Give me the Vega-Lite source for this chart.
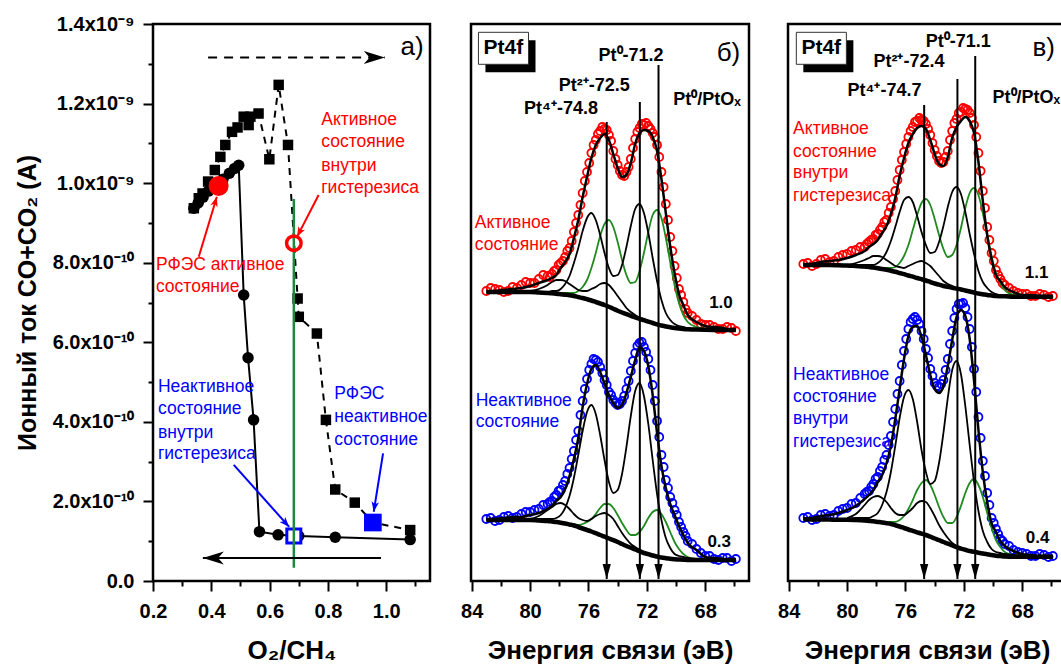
{
"$schema":"https://vega.github.io/schema/vega-lite/v6.json",
"background":"white",
"padding":{"left":13,"top":12,"right":0,"bottom":0},
"config":{"font":"Liberation Sans","view":{"stroke":"black","strokeWidth":2.5},
"axis":{"grid":false,"labelFlush":false,"labelOverlap":false,"labelFont":"Liberation Sans","titleFont":"Liberation Sans","labelFontWeight":"bold","titleFontWeight":"bold","labelFontSize":20,"titleFontSize":26,"labelColor":"black","titleColor":"black","tickColor":"black","tickWidth":2}},
"datasets":{
"pa":[
{"ser":"sq","x":0.340,"y":9.37e-10},{"ser":"sq","x":0.357,"y":9.62e-10},{"ser":"sq","x":0.370,"y":9.74e-10},{"ser":"sq","x":0.389,"y":1.004e-9},{"ser":"sq","x":0.412,"y":1.033e-9},{"ser":"sq","x":0.431,"y":1.066e-9},{"ser":"sq","x":0.448,"y":1.096e-9},{"ser":"sq","x":0.471,"y":1.129e-9},{"ser":"sq","x":0.490,"y":1.14e-9},{"ser":"sq","x":0.511,"y":1.167e-9},{"ser":"sq","x":0.528,"y":1.146e-9},{"ser":"sq","x":0.534,"y":1.167e-9},{"ser":"sq","x":0.562,"y":1.175e-9},{"ser":"sq","x":0.599,"y":1.06e-9},{"ser":"sq","x":0.631,"y":1.247e-9},{"ser":"sq","x":0.663,"y":1.096e-9},{"ser":"sq","x":0.696,"y":7.1e-10},{"ser":"sq","x":0.700,"y":6.64e-10},{"ser":"sq","x":0.762,"y":6.22e-10},{"ser":"sq","x":0.793,"y":4.05e-10},{"ser":"sq","x":0.825,"y":2.3e-10},{"ser":"sq","x":0.892,"y":1.97e-10},{"ser":"sq","x":0.954,"y":1.47e-10},{"ser":"sq","x":1.082,"y":1.28e-10},
{"ser":"ci","x":0.340,"y":9.37e-10},{"ser":"ci","x":0.355,"y":9.5e-10},{"ser":"ci","x":0.372,"y":9.65e-10},{"ser":"ci","x":0.390,"y":9.8e-10},{"ser":"ci","x":0.410,"y":9.95e-10},{"ser":"ci","x":0.440,"y":1.01e-9},{"ser":"ci","x":0.462,"y":1.025e-9},{"ser":"ci","x":0.480,"y":1.037e-9},{"ser":"ci","x":0.494,"y":1.045e-9},{"ser":"ci","x":0.511,"y":7.19e-10},{"ser":"ci","x":0.526,"y":5.61e-10},{"ser":"ci","x":0.545,"y":4.05e-10},{"ser":"ci","x":0.565,"y":1.24e-10},{"ser":"ci","x":0.629,"y":1.16e-10},{"ser":"ci","x":0.700,"y":1.13e-10},{"ser":"ci","x":0.825,"y":1.1e-10},{"ser":"ci","x":1.082,"y":1.04e-10}],
"pm":[{"m":"rf","x":0.425,"y":9.93e-10},{"m":"rh","x":0.683,"y":8.49e-10},{"m":"bf","x":0.954,"y":1.47e-10},{"m":"bh","x":0.683,"y":1.13e-10}],
"pg":[{"x":0.683,"y":3.3e-11,"y2":9.6e-10}],
"par":[
{"id":"top","k":"k","x":0.389,"y":1.316e-9,"x2":0.995,"y2":1.316e-9},
{"id":"bot","k":"k","x":0.982,"y":5.8e-11,"x2":0.371,"y2":5.8e-11},
{"id":"r1","k":"a","x":0.357,"y":8.15e-10,"x2":0.419,"y2":9.66e-10},
{"id":"r2","k":"a","x":0.768,"y":9.7e-10,"x2":0.694,"y2":8.65e-10},
{"id":"b1","k":"n","x":0.477,"y":2.92e-10,"x2":0.667,"y2":1.36e-10},
{"id":"b2","k":"n","x":0.989,"y":3.21e-10,"x2":0.957,"y2":1.74e-10}],
"at":[
{"ty":"L","k":"k","t":"а)","x":1.128,"y":1.342e-9},
{"ty":"S","k":"a","t":"Активное","x":0.777,"y":1.159e-9},
{"ty":"S","k":"a","t":"состояние","x":0.777,"y":1.103e-9},
{"ty":"S","k":"a","t":"внутри","x":0.777,"y":1.044e-9},
{"ty":"S","k":"a","t":"гистерезиса","x":0.777,"y":9.88e-10},
{"ty":"S","k":"a","t":"РФЭС активное","x":0.21,"y":7.94e-10},
{"ty":"S","k":"a","t":"состояние","x":0.21,"y":7.38e-10},
{"ty":"S","k":"n","t":"Неактивное","x":0.217,"y":4.88e-10},
{"ty":"S","k":"n","t":"состояние","x":0.217,"y":4.32e-10},
{"ty":"S","k":"n","t":"внутри","x":0.217,"y":3.73e-10},
{"ty":"S","k":"n","t":"гистерезиса","x":0.217,"y":3.18e-10},
{"ty":"S","k":"n","t":"РФЭС","x":0.822,"y":4.7e-10},
{"ty":"S","k":"n","t":"неактивное","x":0.822,"y":4.11e-10},
{"ty":"S","k":"n","t":"состояние","x":0.822,"y":3.54e-10}],
"xl":[{"p":"b","E":74.75,"I":459},{"p":"b","E":72.48,"I":479},{"p":"b","E":71.2,"I":516},{"p":"c","E":74.72,"I":476},{"p":"c","E":72.44,"I":502},{"p":"c","E":71.22,"I":525}],
"xb":[{"p":"b","r":"sh","E":83.06,"E2":79.63,"I":540.7,"I2":508.7},{"p":"b","r":"bx","E":83.54,"E2":80.11,"I":548.7,"I2":516.7},{"p":"c","r":"sh","E":83.0,"E2":79.57,"I":540.7,"I2":508.7},{"p":"c","r":"bx","E":83.48,"E2":80.05,"I":548.7,"I2":516.7}],
"xt":[
{"p":"b","ty":"L","k":"k","t":"б)","E":65.6,"I":528},
{"p":"b","ty":"P","k":"k","t":"Pt⁰-71.2","E":73.08,"I":525},
{"p":"b","ty":"P","k":"k","t":"Pt²⁺-72.5","E":75.6,"I":495},
{"p":"b","ty":"P","k":"k","t":"Pt⁴⁺-74.8","E":77.88,"I":472},
{"p":"b","ty":"P","k":"k","t":"Pt⁰/PtOₓ","E":67.88,"I":481},
{"p":"b","ty":"N","k":"k","t":"1.0","E":66.92,"I":278},
{"p":"b","ty":"N","k":"k","t":"0.3","E":67.04,"I":39},
{"p":"b","ty":"S","k":"a","t":"Активное","E":83.79,"I":358},
{"p":"b","ty":"S","k":"a","t":"состояние","E":83.79,"I":336},
{"p":"b","ty":"S","k":"n","t":"Неактивное","E":83.73,"I":180},
{"p":"b","ty":"S","k":"n","t":"состояние","E":83.73,"I":159},
{"p":"b","ty":"B","k":"k","t":"Pt4f","E":81.83,"I":532.7},
{"p":"c","ty":"L","k":"k","t":"в)","E":65.76,"I":533},
{"p":"c","ty":"P","k":"k","t":"Pt⁰-71.1","E":72.39,"I":539},
{"p":"c","ty":"P","k":"k","t":"Pt²⁺-72.4","E":75.76,"I":519},
{"p":"c","ty":"P","k":"k","t":"Pt⁴⁺-74.7","E":77.44,"I":490},
{"p":"c","ty":"P","k":"k","t":"Pt⁰/PtOₓ","E":67.72,"I":483},
{"p":"c","ty":"N","k":"k","t":"1.1","E":67.02,"I":308},
{"p":"c","ty":"N","k":"k","t":"0.4","E":66.95,"I":43},
{"p":"c","ty":"S","k":"a","t":"Активное","E":83.7,"I":452},
{"p":"c","ty":"S","k":"a","t":"состояние","E":83.7,"I":429},
{"p":"c","ty":"S","k":"a","t":"внутри","E":83.7,"I":408},
{"p":"c","ty":"S","k":"a","t":"гистерезиса","E":83.7,"I":385},
{"p":"c","ty":"S","k":"n","t":"Неактивное","E":83.7,"I":206},
{"p":"c","ty":"S","k":"n","t":"состояние","E":83.7,"I":184},
{"p":"c","ty":"S","k":"n","t":"внутри","E":83.7,"I":162},
{"p":"c","ty":"S","k":"n","t":"гистерезиса","E":83.7,"I":139},
{"p":"c","ty":"B","k":"k","t":"Pt4f","E":81.77,"I":532.7}],
"xo":[
{"p":"b","s":"a","E":82.7,"o":293},{"p":"b","s":"a","E":82.1,"o":291},{"p":"b","s":"a","E":81.5,"o":290},{"p":"b","s":"a","E":80.9,"o":293},{"p":"b","s":"a","E":80.3,"o":299},{"p":"b","s":"a","E":79.7,"o":298},{"p":"b","s":"a","E":79.1,"o":306},{"p":"b","s":"a","E":78.65,"o":304},{"p":"b","s":"a","E":78.35,"o":310},{"p":"b","s":"a","E":78.05,"o":316},{"p":"b","s":"a","E":77.75,"o":320},{"p":"b","s":"a","E":77.45,"o":330},{"p":"b","s":"a","E":77.15,"o":340},{"p":"b","s":"a","E":76.85,"o":358},{"p":"b","s":"a","E":76.55,"o":376},{"p":"b","s":"a","E":76.25,"o":400},{"p":"b","s":"a","E":75.95,"o":418},{"p":"b","s":"a","E":75.65,"o":436},{"p":"b","s":"a","E":75.35,"o":447},{"p":"b","s":"a","E":75.05,"o":454},{"p":"b","s":"a","E":74.75,"o":451},{"p":"b","s":"a","E":74.45,"o":440},{"p":"b","s":"a","E":74.15,"o":422},{"p":"b","s":"a","E":73.85,"o":410},{"p":"b","s":"a","E":73.55,"o":405},{"p":"b","s":"a","E":73.25,"o":414},{"p":"b","s":"a","E":72.95,"o":433},{"p":"b","s":"a","E":72.65,"o":449},{"p":"b","s":"a","E":72.35,"o":457},{"p":"b","s":"a","E":72.05,"o":458},{"p":"b","s":"a","E":71.75,"o":452},{"p":"b","s":"a","E":71.45,"o":444},{"p":"b","s":"a","E":71.15,"o":424},{"p":"b","s":"a","E":70.85,"o":394},{"p":"b","s":"a","E":70.55,"o":361},{"p":"b","s":"a","E":70.25,"o":330},{"p":"b","s":"a","E":69.95,"o":303},{"p":"b","s":"a","E":69.65,"o":286},{"p":"b","s":"a","E":69.35,"o":272},{"p":"b","s":"a","E":68.9,"o":265},{"p":"b","s":"a","E":68.3,"o":257},{"p":"b","s":"a","E":67.7,"o":256},{"p":"b","s":"a","E":67.1,"o":252},{"p":"b","s":"a","E":66.5,"o":254},
{"p":"b","s":"n","E":82.7,"o":63},{"p":"b","s":"n","E":82.1,"o":61},{"p":"b","s":"n","E":81.5,"o":65},{"p":"b","s":"n","E":80.9,"o":64},{"p":"b","s":"n","E":80.3,"o":69},{"p":"b","s":"n","E":79.7,"o":71},{"p":"b","s":"n","E":79.1,"o":76},{"p":"b","s":"n","E":78.65,"o":79},{"p":"b","s":"n","E":78.35,"o":84},{"p":"b","s":"n","E":78.05,"o":90},{"p":"b","s":"n","E":77.75,"o":96},{"p":"b","s":"n","E":77.45,"o":107},{"p":"b","s":"n","E":77.15,"o":122},{"p":"b","s":"n","E":76.85,"o":141},{"p":"b","s":"n","E":76.55,"o":166},{"p":"b","s":"n","E":76.25,"o":192},{"p":"b","s":"n","E":75.95,"o":211},{"p":"b","s":"n","E":75.65,"o":222},{"p":"b","s":"n","E":75.35,"o":219},{"p":"b","s":"n","E":75.05,"o":208},{"p":"b","s":"n","E":74.75,"o":196},{"p":"b","s":"n","E":74.45,"o":186},{"p":"b","s":"n","E":74.15,"o":178},{"p":"b","s":"n","E":73.85,"o":177},{"p":"b","s":"n","E":73.55,"o":185},{"p":"b","s":"n","E":73.25,"o":200},{"p":"b","s":"n","E":72.95,"o":220},{"p":"b","s":"n","E":72.65,"o":235},{"p":"b","s":"n","E":72.35,"o":239},{"p":"b","s":"n","E":72.05,"o":229},{"p":"b","s":"n","E":71.75,"o":211},{"p":"b","s":"n","E":71.45,"o":180},{"p":"b","s":"n","E":71.15,"o":144},{"p":"b","s":"n","E":70.85,"o":114},{"p":"b","s":"n","E":70.55,"o":93},{"p":"b","s":"n","E":70.25,"o":78},{"p":"b","s":"n","E":69.95,"o":66},{"p":"b","s":"n","E":69.65,"o":54},{"p":"b","s":"n","E":69.35,"o":45},{"p":"b","s":"n","E":68.9,"o":37},{"p":"b","s":"n","E":68.3,"o":28},{"p":"b","s":"n","E":67.7,"o":25},{"p":"b","s":"n","E":67.1,"o":21},{"p":"b","s":"n","E":66.5,"o":23},
{"p":"c","s":"a","E":82.7,"o":318},{"p":"c","s":"a","E":82.1,"o":317},{"p":"c","s":"a","E":81.5,"o":322},{"p":"c","s":"a","E":80.9,"o":320},{"p":"c","s":"a","E":80.3,"o":326},{"p":"c","s":"a","E":79.7,"o":330},{"p":"c","s":"a","E":79.1,"o":334},{"p":"c","s":"a","E":78.65,"o":337},{"p":"c","s":"a","E":78.35,"o":341},{"p":"c","s":"a","E":78.05,"o":346},{"p":"c","s":"a","E":77.75,"o":351},{"p":"c","s":"a","E":77.45,"o":359},{"p":"c","s":"a","E":77.15,"o":368},{"p":"c","s":"a","E":76.85,"o":382},{"p":"c","s":"a","E":76.55,"o":401},{"p":"c","s":"a","E":76.25,"o":421},{"p":"c","s":"a","E":75.95,"o":437},{"p":"c","s":"a","E":75.65,"o":450},{"p":"c","s":"a","E":75.35,"o":459},{"p":"c","s":"a","E":75.05,"o":463},{"p":"c","s":"a","E":74.75,"o":460},{"p":"c","s":"a","E":74.45,"o":452},{"p":"c","s":"a","E":74.15,"o":438},{"p":"c","s":"a","E":73.85,"o":425},{"p":"c","s":"a","E":73.55,"o":418},{"p":"c","s":"a","E":73.25,"o":424},{"p":"c","s":"a","E":72.95,"o":441},{"p":"c","s":"a","E":72.65,"o":458},{"p":"c","s":"a","E":72.35,"o":468},{"p":"c","s":"a","E":72.05,"o":473},{"p":"c","s":"a","E":71.75,"o":471},{"p":"c","s":"a","E":71.45,"o":463},{"p":"c","s":"a","E":71.15,"o":444},{"p":"c","s":"a","E":70.85,"o":410},{"p":"c","s":"a","E":70.55,"o":373},{"p":"c","s":"a","E":70.25,"o":341},{"p":"c","s":"a","E":69.95,"o":320},{"p":"c","s":"a","E":69.65,"o":306},{"p":"c","s":"a","E":69.35,"o":298},{"p":"c","s":"a","E":68.9,"o":293},{"p":"c","s":"a","E":68.3,"o":288},{"p":"c","s":"a","E":67.7,"o":287},{"p":"c","s":"a","E":67.1,"o":285},{"p":"c","s":"a","E":66.5,"o":286},
{"p":"c","s":"n","E":82.7,"o":64},{"p":"c","s":"n","E":82.1,"o":62},{"p":"c","s":"n","E":81.5,"o":67},{"p":"c","s":"n","E":80.9,"o":66},{"p":"c","s":"n","E":80.3,"o":72},{"p":"c","s":"n","E":79.7,"o":77},{"p":"c","s":"n","E":79.1,"o":83},{"p":"c","s":"n","E":78.65,"o":89},{"p":"c","s":"n","E":78.35,"o":94},{"p":"c","s":"n","E":78.05,"o":102},{"p":"c","s":"n","E":77.75,"o":110},{"p":"c","s":"n","E":77.45,"o":121},{"p":"c","s":"n","E":77.15,"o":136},{"p":"c","s":"n","E":76.85,"o":159},{"p":"c","s":"n","E":76.55,"o":187},{"p":"c","s":"n","E":76.25,"o":216},{"p":"c","s":"n","E":75.95,"o":242},{"p":"c","s":"n","E":75.65,"o":259},{"p":"c","s":"n","E":75.35,"o":264},{"p":"c","s":"n","E":75.05,"o":257},{"p":"c","s":"n","E":74.75,"o":242},{"p":"c","s":"n","E":74.45,"o":223},{"p":"c","s":"n","E":74.15,"o":205},{"p":"c","s":"n","E":73.85,"o":195},{"p":"c","s":"n","E":73.55,"o":197},{"p":"c","s":"n","E":73.25,"o":211},{"p":"c","s":"n","E":72.95,"o":237},{"p":"c","s":"n","E":72.65,"o":263},{"p":"c","s":"n","E":72.35,"o":277},{"p":"c","s":"n","E":72.05,"o":278},{"p":"c","s":"n","E":71.75,"o":264},{"p":"c","s":"n","E":71.45,"o":234},{"p":"c","s":"n","E":71.15,"o":189},{"p":"c","s":"n","E":70.85,"o":143},{"p":"c","s":"n","E":70.55,"o":105},{"p":"c","s":"n","E":70.25,"o":76},{"p":"c","s":"n","E":69.95,"o":58},{"p":"c","s":"n","E":69.65,"o":47},{"p":"c","s":"n","E":69.35,"o":40},{"p":"c","s":"n","E":68.9,"o":35},{"p":"c","s":"n","E":68.3,"o":29},{"p":"c","s":"n","E":67.7,"o":27},{"p":"c","s":"n","E":67.1,"o":25},{"p":"c","s":"n","E":66.5,"o":26}],
"xps":[
{"p":"b","s":"a","E":83.0,"o":290,"f":289,"bg":289},
{"p":"b","s":"a","E":82.4,"o":292,"f":290,"bg":289},
{"p":"b","s":"a","E":81.8,"o":289,"f":291,"bg":289},
{"p":"b","s":"a","E":81.2,"o":294,"f":292,"bg":289},
{"p":"b","s":"a","E":80.6,"o":296,"f":293,"bg":289},
{"p":"b","s":"a","E":80.0,"o":298,"f":295,"bg":289,"k2":289,"g":289,"k4":290},
{"p":"b","s":"a","E":79.4,"o":302,"f":298,"bg":288.5,"k2":289,"g":289,"k4":292},
{"p":"b","s":"a","E":78.8,"o":305,"f":301,"bg":288,"k2":289,"g":289,"k4":296},
{"p":"b","s":"a","E":78.5,"o":307,"f":303,"bg":287.7,"k2":290,"g":289,"k4":299},
{"p":"b","s":"a","E":78.2,"o":311,"f":306,"bg":287.3,"k2":290,"g":288,"k4":301},
{"p":"b","s":"a","E":77.9,"o":318,"f":313,"bg":286.8,"k2":292,"g":288,"k4":301},
{"p":"b","s":"a","E":77.6,"o":324,"f":319,"bg":286.3,"k2":297,"g":288,"k4":300},
{"p":"b","s":"a","E":77.3,"o":333,"f":327,"bg":285.8,"k2":305,"g":288,"k4":297},
{"p":"b","s":"a","E":77.0,"o":349,"f":343,"bg":285,"k2":318,"g":288,"k4":294},
{"p":"b","s":"a","E":76.7,"o":366,"f":361,"bg":284,"k2":333,"g":290,"k4":291},
{"p":"b","s":"a","E":76.4,"o":388,"f":384,"bg":283,"k2":350,"g":294,"k4":290},
{"p":"b","s":"a","E":76.1,"o":409,"f":404,"bg":281.8,"k2":363,"g":301,"k4":290},
{"p":"b","s":"a","E":75.8,"o":428,"f":423,"bg":280.5,"k2":368,"g":313,"k4":292},
{"p":"b","s":"a","E":75.5,"o":441,"f":436,"bg":279,"k2":361,"g":328,"k4":294},
{"p":"b","s":"a","E":75.2,"o":450,"f":443,"bg":277.5,"k2":346,"g":345,"k4":297},
{"p":"b","s":"a","E":74.9,"o":452,"f":447,"bg":276,"k2":328,"g":357,"k4":298},
{"p":"b","s":"a","E":74.6,"o":446,"f":441,"bg":274.3,"k2":313,"g":361,"k4":296},
{"p":"b","s":"a","E":74.3,"o":430,"f":427,"bg":272.3,"k2":305,"g":354,"k4":291},
{"p":"b","s":"a","E":74.0,"o":416,"f":413,"bg":270.3,"k2":306,"g":339,"k4":285},
{"p":"b","s":"a","E":73.7,"o":406,"f":404,"bg":268.5,"k2":316,"g":321,"k4":279},
{"p":"b","s":"a","E":73.4,"o":409,"f":406,"bg":266.8,"k2":334,"g":306,"k4":273},
{"p":"b","s":"a","E":73.1,"o":422,"f":418,"bg":265.2,"k2":355,"g":298,"k4":269},
{"p":"b","s":"a","E":72.8,"o":442,"f":437,"bg":263.7,"k2":372,"g":299,"k4":266},
{"p":"b","s":"a","E":72.5,"o":453,"f":448,"bg":262.2,"k2":377,"g":310,"k4":263},
{"p":"b","s":"a","E":72.2,"o":456,"f":451,"bg":260.8,"k2":368,"g":328,"k4":261},
{"p":"b","s":"a","E":71.9,"o":455,"f":450,"bg":259.3,"k2":348,"g":349,"k4":260},
{"p":"b","s":"a","E":71.6,"o":448,"f":444,"bg":258,"k2":323,"g":366,"k4":258},
{"p":"b","s":"a","E":71.3,"o":436,"f":430,"bg":256.6,"k2":300,"g":371,"k4":257},
{"p":"b","s":"a","E":71.0,"o":409,"f":402,"bg":255.5,"k2":281,"g":363,"k4":256},
{"p":"b","s":"a","E":70.7,"o":377,"f":368,"bg":254.5,"k2":268,"g":343,"k4":255},
{"p":"b","s":"a","E":70.4,"o":344,"f":335,"bg":253.7,"k2":261,"g":319,"k4":254},
{"p":"b","s":"a","E":70.1,"o":315,"f":308,"bg":253,"k2":257,"g":296,"k4":253},
{"p":"b","s":"a","E":69.8,"o":292,"f":287,"bg":252.5,"k2":255,"g":278,"k4":253},
{"p":"b","s":"a","E":69.5,"o":279,"f":276,"bg":252.1,"k2":254,"g":266,"k4":252},
{"p":"b","s":"a","E":69.2,"o":268,"f":266,"bg":251.8,"k2":253,"g":259,"k4":252},
{"p":"b","s":"a","E":68.6,"o":261,"f":259,"bg":251.4,"k2":252,"g":254,"k4":251},
{"p":"b","s":"a","E":68.0,"o":256,"f":255,"bg":251.2,"k2":252,"g":252,"k4":251},
{"p":"b","s":"a","E":67.4,"o":254,"f":254,"bg":251.1},
{"p":"b","s":"a","E":66.8,"o":252,"f":253,"bg":251},
{"p":"b","s":"a","E":66.2,"o":253,"f":251,"bg":251},
{"p":"b","s":"a","E":65.9,"o":250,"f":251,"bg":251},
{"p":"b","s":"n","E":83.0,"o":62,"f":61,"bg":61},
{"p":"b","s":"n","E":82.4,"o":60,"f":62,"bg":61},
{"p":"b","s":"n","E":81.8,"o":64,"f":63,"bg":61},
{"p":"b","s":"n","E":81.2,"o":63,"f":64,"bg":61},
{"p":"b","s":"n","E":80.6,"o":67,"f":64,"bg":61},
{"p":"b","s":"n","E":80.0,"o":69,"f":66,"bg":61,"k2":62,"g":61,"k4":62},
{"p":"b","s":"n","E":79.4,"o":72,"f":68,"bg":60.5,"k2":62,"g":61,"k4":65},
{"p":"b","s":"n","E":78.8,"o":77,"f":72,"bg":60,"k2":62,"g":60,"k4":71},
{"p":"b","s":"n","E":78.5,"o":80,"f":75,"bg":59.5,"k2":62,"g":60,"k4":74},
{"p":"b","s":"n","E":78.2,"o":86,"f":80,"bg":59,"k2":63,"g":59,"k4":77},
{"p":"b","s":"n","E":77.9,"o":91,"f":84,"bg":58.3,"k2":66,"g":59,"k4":78},
{"p":"b","s":"n","E":77.6,"o":100,"f":92,"bg":57.5,"k2":73,"g":58,"k4":76},
{"p":"b","s":"n","E":77.3,"o":113,"f":105,"bg":56.5,"k2":85,"g":57,"k4":72},
{"p":"b","s":"n","E":77.0,"o":130,"f":122,"bg":55.5,"k2":103,"g":57,"k4":67},
{"p":"b","s":"n","E":76.7,"o":150,"f":143,"bg":54,"k2":126,"g":56,"k4":63},
{"p":"b","s":"n","E":76.4,"o":180,"f":174,"bg":52.5,"k2":150,"g":57,"k4":61},
{"p":"b","s":"n","E":76.1,"o":202,"f":197,"bg":51,"k2":169,"g":59,"k4":60},
{"p":"b","s":"n","E":75.8,"o":217,"f":212,"bg":49.5,"k2":176,"g":62,"k4":62},
{"p":"b","s":"n","E":75.5,"o":221,"f":216,"bg":47.8,"k2":167,"g":67,"k4":65},
{"p":"b","s":"n","E":75.2,"o":214,"f":209,"bg":46,"k2":146,"g":73,"k4":67},
{"p":"b","s":"n","E":74.9,"o":201,"f":197,"bg":44.3,"k2":121,"g":77,"k4":68},
{"p":"b","s":"n","E":74.6,"o":189,"f":186,"bg":42.5,"k2":99,"g":77,"k4":66},
{"p":"b","s":"n","E":74.3,"o":181,"f":178,"bg":40.8,"k2":88,"g":73,"k4":62},
{"p":"b","s":"n","E":74.0,"o":176,"f":173,"bg":39,"k2":91,"g":66,"k4":55},
{"p":"b","s":"n","E":73.7,"o":180,"f":176,"bg":37,"k2":107,"g":58,"k4":48},
{"p":"b","s":"n","E":73.4,"o":192,"f":188,"bg":35,"k2":134,"g":51,"k4":42},
{"p":"b","s":"n","E":73.1,"o":210,"f":204,"bg":33.3,"k2":165,"g":46,"k4":37},
{"p":"b","s":"n","E":72.8,"o":228,"f":221,"bg":31.5,"k2":190,"g":46,"k4":34},
{"p":"b","s":"n","E":72.5,"o":238,"f":234,"bg":29.8,"k2":198,"g":49,"k4":31},
{"p":"b","s":"n","E":72.2,"o":234,"f":230,"bg":28,"k2":185,"g":55,"k4":29},
{"p":"b","s":"n","E":71.9,"o":222,"f":215,"bg":26.8,"k2":157,"g":63,"k4":27},
{"p":"b","s":"n","E":71.6,"o":196,"f":186,"bg":25.5,"k2":121,"g":69,"k4":26},
{"p":"b","s":"n","E":71.3,"o":160,"f":148,"bg":24.5,"k2":87,"g":71,"k4":25},
{"p":"b","s":"n","E":71.0,"o":126,"f":115,"bg":23.5,"k2":61,"g":67,"k4":24},
{"p":"b","s":"n","E":70.7,"o":101,"f":93,"bg":22.8,"k2":43,"g":59,"k4":23},
{"p":"b","s":"n","E":70.4,"o":84,"f":77,"bg":22.2,"k2":33,"g":49,"k4":22},
{"p":"b","s":"n","E":70.1,"o":71,"f":66,"bg":21.8,"k2":27,"g":39,"k4":22},
{"p":"b","s":"n","E":69.8,"o":59,"f":55,"bg":21.5,"k2":25,"g":32,"k4":22},
{"p":"b","s":"n","E":69.5,"o":49,"f":46,"bg":21.2,"k2":24,"g":27,"k4":21},
{"p":"b","s":"n","E":69.2,"o":40,"f":38,"bg":21,"k2":23,"g":24,"k4":21},
{"p":"b","s":"n","E":68.6,"o":32,"f":31,"bg":21,"k2":22,"g":22,"k4":21},
{"p":"b","s":"n","E":68.0,"o":25,"f":24,"bg":21,"k2":22,"g":21,"k4":21},
{"p":"b","s":"n","E":67.4,"o":22,"f":23,"bg":21},
{"p":"b","s":"n","E":66.8,"o":23,"f":22,"bg":21},
{"p":"b","s":"n","E":66.2,"o":20,"f":21,"bg":21},
{"p":"b","s":"n","E":65.9,"o":22,"f":21,"bg":21},
{"p":"c","s":"a","E":83.0,"o":317,"f":316,"bg":316},
{"p":"c","s":"a","E":82.4,"o":315,"f":317,"bg":316},
{"p":"c","s":"a","E":81.8,"o":321,"f":319,"bg":316},
{"p":"c","s":"a","E":81.2,"o":319,"f":320,"bg":316},
{"p":"c","s":"a","E":80.6,"o":324,"f":321,"bg":315.8},
{"p":"c","s":"a","E":80.0,"o":327,"f":323,"bg":315.5,"k2":316,"g":316,"k4":316},
{"p":"c","s":"a","E":79.4,"o":331,"f":326,"bg":315,"k2":316,"g":316,"k4":318},
{"p":"c","s":"a","E":78.8,"o":334,"f":330,"bg":314.5,"k2":316,"g":315,"k4":321},
{"p":"c","s":"a","E":78.5,"o":339,"f":334,"bg":314,"k2":316,"g":315,"k4":323},
{"p":"c","s":"a","E":78.2,"o":342,"f":337,"bg":313.5,"k2":316,"g":314,"k4":325},
{"p":"c","s":"a","E":77.9,"o":347,"f":341,"bg":312.8,"k2":318,"g":314,"k4":325},
{"p":"c","s":"a","E":77.6,"o":354,"f":348,"bg":312,"k2":322,"g":313,"k4":324},
{"p":"c","s":"a","E":77.3,"o":361,"f":355,"bg":311.2,"k2":329,"g":313,"k4":321},
{"p":"c","s":"a","E":77.0,"o":374,"f":367,"bg":310.3,"k2":340,"g":313,"k4":318},
{"p":"c","s":"a","E":76.7,"o":390,"f":383,"bg":309.2,"k2":354,"g":314,"k4":315},
{"p":"c","s":"a","E":76.4,"o":411,"f":405,"bg":308,"k2":369,"g":318,"k4":314},
{"p":"c","s":"a","E":76.1,"o":429,"f":423,"bg":306.8,"k2":381,"g":325,"k4":313},
{"p":"c","s":"a","E":75.8,"o":444,"f":438,"bg":305.5,"k2":384,"g":336,"k4":315},
{"p":"c","s":"a","E":75.5,"o":454,"f":447,"bg":304.3,"k2":379,"g":351,"k4":317},
{"p":"c","s":"a","E":75.2,"o":460,"f":453,"bg":303,"k2":365,"g":366,"k4":319},
{"p":"c","s":"a","E":74.9,"o":461,"f":455,"bg":301.8,"k2":349,"g":378,"k4":320},
{"p":"c","s":"a","E":74.6,"o":457,"f":452,"bg":300.5,"k2":336,"g":382,"k4":318},
{"p":"c","s":"a","E":74.3,"o":446,"f":441,"bg":299,"k2":328,"g":376,"k4":315},
{"p":"c","s":"a","E":74.0,"o":431,"f":427,"bg":297.5,"k2":329,"g":362,"k4":310},
{"p":"c","s":"a","E":73.7,"o":420,"f":417,"bg":296.3,"k2":339,"g":346,"k4":305},
{"p":"c","s":"a","E":73.4,"o":419,"f":415,"bg":295,"k2":355,"g":332,"k4":300},
{"p":"c","s":"a","E":73.1,"o":430,"f":424,"bg":294.2,"k2":374,"g":324,"k4":297},
{"p":"c","s":"a","E":72.8,"o":450,"f":443,"bg":293.3,"k2":389,"g":326,"k4":295},
{"p":"c","s":"a","E":72.5,"o":462,"f":454,"bg":292.4,"k2":394,"g":336,"k4":293},
{"p":"c","s":"a","E":72.2,"o":469,"f":460,"bg":291.5,"k2":387,"g":353,"k4":292},
{"p":"c","s":"a","E":71.9,"o":472,"f":464,"bg":290.5,"k2":369,"g":373,"k4":291},
{"p":"c","s":"a","E":71.6,"o":468,"f":460,"bg":289.5,"k2":347,"g":388,"k4":290},
{"p":"c","s":"a","E":71.3,"o":456,"f":448,"bg":288.5,"k2":327,"g":393,"k4":289},
{"p":"c","s":"a","E":71.0,"o":428,"f":419,"bg":287.5,"k2":310,"g":386,"k4":288},
{"p":"c","s":"a","E":70.7,"o":390,"f":380,"bg":286.8,"k2":299,"g":368,"k4":287},
{"p":"c","s":"a","E":70.4,"o":354,"f":346,"bg":286,"k2":293,"g":346,"k4":286},
{"p":"c","s":"a","E":70.1,"o":328,"f":322,"bg":285.5,"k2":289,"g":325,"k4":286},
{"p":"c","s":"a","E":69.8,"o":311,"f":306,"bg":285,"k2":287,"g":308,"k4":285},
{"p":"c","s":"a","E":69.5,"o":302,"f":300,"bg":284.8,"k2":286,"g":298,"k4":285},
{"p":"c","s":"a","E":69.2,"o":296,"f":294,"bg":284.7,"k2":286,"g":291,"k4":285},
{"p":"c","s":"a","E":68.6,"o":290,"f":289,"bg":284.3,"k2":285,"g":286,"k4":284},
{"p":"c","s":"a","E":68.0,"o":287,"f":286,"bg":284.3,"k2":285,"g":285,"k4":284},
{"p":"c","s":"a","E":67.4,"o":285,"f":286,"bg":284.3},
{"p":"c","s":"a","E":66.8,"o":287,"f":285,"bg":284.3},
{"p":"c","s":"a","E":66.2,"o":284,"f":285,"bg":284.3},
{"p":"c","s":"a","E":65.9,"o":285,"f":284,"bg":284.3},
{"p":"c","s":"n","E":83.0,"o":63,"f":62,"bg":61.7},
{"p":"c","s":"n","E":82.4,"o":61,"f":63,"bg":61.6},
{"p":"c","s":"n","E":81.8,"o":66,"f":65,"bg":61.5},
{"p":"c","s":"n","E":81.2,"o":65,"f":66,"bg":61.4},
{"p":"c","s":"n","E":80.6,"o":70,"f":68,"bg":61.3},
{"p":"c","s":"n","E":80.0,"o":73,"f":71,"bg":61.3,"k2":62,"g":62,"k4":63},
{"p":"c","s":"n","E":79.4,"o":78,"f":75,"bg":61,"k2":63,"g":61,"k4":67},
{"p":"c","s":"n","E":78.8,"o":87,"f":82,"bg":60.5,"k2":63,"g":61,"k4":76},
{"p":"c","s":"n","E":78.5,"o":90,"f":86,"bg":60.1,"k2":63,"g":61,"k4":81},
{"p":"c","s":"n","E":78.2,"o":97,"f":91,"bg":59.7,"k2":65,"g":60,"k4":84},
{"p":"c","s":"n","E":77.9,"o":104,"f":99,"bg":59.1,"k2":68,"g":60,"k4":85},
{"p":"c","s":"n","E":77.6,"o":114,"f":106,"bg":58.5,"k2":76,"g":59,"k4":83},
{"p":"c","s":"n","E":77.3,"o":126,"f":118,"bg":57.8,"k2":89,"g":59,"k4":79},
{"p":"c","s":"n","E":77.0,"o":145,"f":135,"bg":57,"k2":109,"g":59,"k4":73},
{"p":"c","s":"n","E":76.7,"o":172,"f":162,"bg":55.8,"k2":135,"g":59,"k4":68},
{"p":"c","s":"n","E":76.4,"o":200,"f":192,"bg":54.5,"k2":163,"g":61,"k4":66},
{"p":"c","s":"n","E":76.1,"o":230,"f":222,"bg":53,"k2":184,"g":65,"k4":66},
{"p":"c","s":"n","E":75.8,"o":252,"f":245,"bg":51.5,"k2":191,"g":72,"k4":69},
{"p":"c","s":"n","E":75.5,"o":262,"f":254,"bg":50.1,"k2":182,"g":81,"k4":73},
{"p":"c","s":"n","E":75.2,"o":261,"f":255,"bg":48.7,"k2":159,"g":91,"k4":78},
{"p":"c","s":"n","E":74.9,"o":250,"f":244,"bg":47.3,"k2":131,"g":98,"k4":80},
{"p":"c","s":"n","E":74.6,"o":232,"f":226,"bg":46,"k2":109,"g":101,"k4":79},
{"p":"c","s":"n","E":74.3,"o":212,"f":206,"bg":44.3,"k2":97,"g":96,"k4":73},
{"p":"c","s":"n","E":74.0,"o":198,"f":192,"bg":42.5,"k2":100,"g":86,"k4":65},
{"p":"c","s":"n","E":73.7,"o":194,"f":188,"bg":40.8,"k2":118,"g":74,"k4":56},
{"p":"c","s":"n","E":73.4,"o":201,"f":195,"bg":39,"k2":148,"g":64,"k4":49},
{"p":"c","s":"n","E":73.1,"o":222,"f":215,"bg":37.3,"k2":183,"g":58,"k4":43},
{"p":"c","s":"n","E":72.8,"o":250,"f":241,"bg":35.5,"k2":211,"g":58,"k4":38},
{"p":"c","s":"n","E":72.5,"o":272,"f":264,"bg":33.9,"k2":220,"g":64,"k4":35},
{"p":"c","s":"n","E":72.2,"o":277,"f":271,"bg":32.3,"k2":207,"g":75,"k4":33},
{"p":"c","s":"n","E":71.9,"o":273,"f":265,"bg":31.2,"k2":175,"g":88,"k4":32},
{"p":"c","s":"n","E":71.6,"o":252,"f":242,"bg":30,"k2":136,"g":98,"k4":30},
{"p":"c","s":"n","E":71.3,"o":212,"f":200,"bg":29.2,"k2":99,"g":102,"k4":30},
{"p":"c","s":"n","E":71.0,"o":164,"f":151,"bg":28.3,"k2":70,"g":96,"k4":29},
{"p":"c","s":"n","E":70.7,"o":120,"f":109,"bg":27.5,"k2":50,"g":84,"k4":28},
{"p":"c","s":"n","E":70.4,"o":88,"f":79,"bg":26.7,"k2":39,"g":68,"k4":27},
{"p":"c","s":"n","E":70.1,"o":63,"f":58,"bg":26,"k2":32,"g":53,"k4":26},
{"p":"c","s":"n","E":69.8,"o":52,"f":49,"bg":25.3,"k2":29,"g":41,"k4":26},
{"p":"c","s":"n","E":69.5,"o":42,"f":40,"bg":24.9,"k2":28,"g":34,"k4":25},
{"p":"c","s":"n","E":69.2,"o":37,"f":35,"bg":24.5,"k2":27,"g":29,"k4":25},
{"p":"c","s":"n","E":68.6,"o":31,"f":30,"bg":24.3,"k2":26,"g":26,"k4":24},
{"p":"c","s":"n","E":68.0,"o":28,"f":27,"bg":24.3,"k2":25,"g":25,"k4":24},
{"p":"c","s":"n","E":67.4,"o":25,"f":26,"bg":24.3},
{"p":"c","s":"n","E":66.8,"o":27,"f":25,"bg":24.3},
{"p":"c","s":"n","E":66.2,"o":24,"f":25,"bg":24.3},
{"p":"c","s":"n","E":65.9,"o":25,"f":24,"bg":24.3}]
},
"spacing":41,
"bounds":"flush",
"hconcat":[
{
"width":277,"height":557,
"resolve":{"axis":{"x":"independent","y":"independent"}},
"encoding":{"x":{"field":"x","type":"quantitative","scale":{"domain":[0.2,1.15],"nice":false,"zero":false},"axis":null},"y":{"field":"y","type":"quantitative","scale":{"domain":[0,1.4e-9],"nice":false,"zero":false},"axis":null}},
"layer":[
{"data":{"name":"pa"},"transform":[{"filter":"datum.ser=='sq'"}],"mark":{"type":"line","color":"black","strokeWidth":2,"strokeDash":[7,6]},
"encoding":{"x":{"field":"x","type":"quantitative","scale":{"domain":[0.2,1.15],"nice":false,"zero":false},"axis":{"orient":"bottom","values":[0.2,0.4,0.6,0.8,1.0],"format":".1f","tickSize":10,"labelPadding":10,"domain":false,"title":"O₂/CH₄","titleY":77,"titleBaseline":"alphabetic"}},
"y":{"field":"y","type":"quantitative","scale":{"domain":[0,1.4e-9],"nice":false,"zero":false},"axis":{"orient":"left","values":[0,2e-10,4e-10,6e-10,8e-10,1e-9,1.2e-9,1.4e-9],"labelExpr":"datum.value < 1e-11 ? '0.0' : datum.value < 3e-10 ? '2.0x10⁻¹⁰' : datum.value < 5e-10 ? '4.0x10⁻¹⁰' : datum.value < 7e-10 ? '6.0x10⁻¹⁰' : datum.value < 9e-10 ? '8.0x10⁻¹⁰' : datum.value < 1.1e-9 ? '1.0x10⁻⁹' : datum.value < 1.3e-9 ? '1.2x10⁻⁹' : '1.4x10⁻⁹'","tickSize":10,"labelPadding":9,"domain":false,"title":"Ионный ток CO+CO₂ (A)","titleFontSize":25,"titleX":-118,"titleY":278.5,"titleAngle":270,"titleBaseline":"alphabetic","titleAlign":"center"}}}},
{"data":{"name":"pa"},"transform":[{"filter":"datum.ser=='ci'"}],"mark":{"type":"line","color":"black","strokeWidth":2},
"encoding":{"x":{"field":"x","type":"quantitative","scale":{"domain":[0.2,1.15],"nice":false,"zero":false},"axis":{"orient":"bottom","values":[0.3,0.5,0.7,0.9,1.1],"tickSize":5,"labels":false,"domain":false,"title":null}},
"y":{"field":"y","type":"quantitative","scale":{"domain":[0,1.4e-9],"nice":false,"zero":false},"axis":{"orient":"left","values":[1e-10,3e-10,5e-10,7e-10,9e-10,1.1e-9,1.3e-9],"tickSize":5,"labels":false,"domain":false,"title":null}}}},
{"data":{"name":"pa"},"transform":[{"filter":"datum.ser=='sq'"}],"mark":{"type":"point","shape":"square","filled":true,"color":"black","size":110,"opacity":1},"encoding":{}},
{"data":{"name":"pa"},"transform":[{"filter":"datum.ser=='ci'"}],"mark":{"type":"point","shape":"circle","filled":true,"color":"black","size":132,"opacity":1},"encoding":{}},
{"data":{"name":"pm"},"transform":[{"filter":"datum.m=='bh'"}],"mark":{"type":"point","shape":"square","filled":true,"fill":"white","stroke":"#0000ff","strokeWidth":3,"size":196,"opacity":1},"encoding":{}},
{"data":{"name":"pg"},"mark":{"type":"rule","color":"#1a8a3c","strokeWidth":2.5},"encoding":{"y2":{"field":"y2"}}},
{"data":{"name":"pm"},"transform":[{"filter":"datum.m=='rh'"}],"mark":{"type":"point","shape":"circle","filled":false,"color":"#ff0000","strokeWidth":3.5,"size":210,"opacity":1},"encoding":{}},
{"data":{"name":"pm"},"transform":[{"filter":"datum.m=='rf'"}],"mark":{"type":"point","shape":"circle","filled":true,"color":"#ff0000","size":400,"opacity":1},"encoding":{}},
{"data":{"name":"pm"},"transform":[{"filter":"datum.m=='bf'"}],"mark":{"type":"point","shape":"square","filled":true,"color":"#0000ff","size":313,"opacity":1},"encoding":{}},
{"data":{"name":"par"},"transform":[{"filter":"datum.id=='top'"}],"mark":{"type":"rule","color":"black","strokeWidth":2,"strokeDash":[9,7]},"encoding":{"x2":{"field":"x2"},"y2":{"field":"y2"}}},
{"data":{"name":"par"},"transform":[{"filter":"datum.id!='top'"}],"mark":{"type":"rule","strokeWidth":2},"encoding":{"x2":{"field":"x2"},"y2":{"field":"y2"},"color":{"field":"k","type":"nominal","scale":{"domain":["a","n","k"],"range":["#ff0000","#0000ff","#000000"]},"legend":null}}},
{"data":{"name":"par"},"transform":[{"filter":"datum.id=='top'"}],"mark":{"type":"point","shape":"M0,0L-0.62,2L0,1.45L0.62,2Z","filled":true,"color":"black","size":441,"angle":90,"opacity":1},"encoding":{"x":{"field":"x2","type":"quantitative","axis":null},"y":{"field":"y2","type":"quantitative","axis":null}}},
{"data":{"name":"par"},"transform":[{"filter":"datum.id=='bot'"}],"mark":{"type":"point","shape":"M0,0L-0.62,2L0,1.45L0.62,2Z","filled":true,"color":"black","size":441,"angle":270,"opacity":1},"encoding":{"x":{"field":"x2","type":"quantitative","axis":null},"y":{"field":"y2","type":"quantitative","axis":null}}},
{"data":{"name":"par"},"transform":[{"filter":"datum.id=='r1'"}],"mark":{"type":"point","shape":"M0,0L-0.75,2L0,1.5L0.75,2Z","filled":true,"color":"#ff0000","size":100,"angle":17,"opacity":1},"encoding":{"x":{"field":"x2","type":"quantitative","axis":null},"y":{"field":"y2","type":"quantitative","axis":null}}},
{"data":{"name":"par"},"transform":[{"filter":"datum.id=='r2'"}],"mark":{"type":"point","shape":"M0,0L-0.75,2L0,1.5L0.75,2Z","filled":true,"color":"#ff0000","size":100,"angle":207.5,"opacity":1},"encoding":{"x":{"field":"x2","type":"quantitative","axis":null},"y":{"field":"y2","type":"quantitative","axis":null}}},
{"data":{"name":"par"},"transform":[{"filter":"datum.id=='b1'"}],"mark":{"type":"point","shape":"M0,0L-0.75,2L0,1.5L0.75,2Z","filled":true,"color":"#0000ff","size":100,"angle":138,"opacity":1},"encoding":{"x":{"field":"x2","type":"quantitative","axis":null},"y":{"field":"y2","type":"quantitative","axis":null}}},
{"data":{"name":"par"},"transform":[{"filter":"datum.id=='b2'"}],"mark":{"type":"point","shape":"M0,0L-0.75,2L0,1.5L0.75,2Z","filled":true,"color":"#0000ff","size":100,"angle":189,"opacity":1},"encoding":{"x":{"field":"x2","type":"quantitative","axis":null},"y":{"field":"y2","type":"quantitative","axis":null}}},
{"data":{"name":"at"},"transform":[{"filter":"datum.ty=='S'"}],"mark":{"type":"text","align":"left","baseline":"middle","fontSize":17.5},"encoding":{"text":{"field":"t"},"color":{"field":"k","type":"nominal","scale":{"domain":["a","n","k"],"range":["#ff0000","#0000ff","#000000"]},"legend":null}}},
{"data":{"name":"at"},"transform":[{"filter":"datum.ty=='L'"}],"mark":{"type":"text","align":"right","baseline":"middle","fontSize":26,"color":"black"},"encoding":{"text":{"field":"t"}}}
]
},
{
"spacing":39,
"bounds":"flush",
"hconcat":[
{
"width":278,"height":557,
"resolve":{"axis":{"x":"independent"}},
"encoding":{"x":{"field":"E","type":"quantitative","scale":{"domain":[65,84.05],"reverse":true,"nice":false,"zero":false},"axis":null}},
"layer":[
{"data":{"name":"xps"},"transform":[{"filter":"datum.p=='b'"}],"mark":{"type":"point","shape":"circle","filled":false,"size":64,"strokeWidth":1.8,"opacity":1},
"encoding":{"x":{"field":"E","type":"quantitative","scale":{"domain":[65,84.05],"reverse":true,"nice":false,"zero":false},"axis":{"orient":"bottom","values":[84,80,76,72,68],"format":"d","tickSize":10,"labelPadding":10,"domain":false,"title":"Энергия связи (эВ)","titleY":77,"titleBaseline":"alphabetic"}},
"y":{"field":"o","type":"quantitative","scale":{"domain":[0,557],"nice":false,"zero":false},"axis":null},
"color":{"field":"s","type":"nominal","scale":{"domain":["a","n","k"],"range":["#ff0000","#0000ff","#000000"]},"legend":null}}},
{"data":{"name":"xo"},"transform":[{"filter":"datum.p=='b'"}],"mark":{"type":"point","shape":"circle","filled":false,"size":64,"strokeWidth":1.8,"opacity":1},
"encoding":{"y":{"field":"o","type":"quantitative","axis":null},"color":{"field":"s","type":"nominal","scale":{"domain":["a","n","k"],"range":["#ff0000","#0000ff","#000000"]},"legend":null}}},
{"data":{"name":"xps"},"transform":[{"filter":"datum.p=='b' && isValid(datum.g)"}],"mark":{"type":"line","color":"#1f8a1f","strokeWidth":1.8,"interpolate":"monotone"},
"encoding":{"x":{"field":"E","type":"quantitative","scale":{"domain":[65,84.05],"reverse":true,"nice":false,"zero":false},"axis":{"orient":"bottom","values":[82,78,74,70,66],"tickSize":5,"labels":false,"domain":false,"title":null}},
"y":{"field":"g","type":"quantitative","axis":null},"detail":{"field":"s","type":"nominal"}}},
{"data":{"name":"xps"},"transform":[{"filter":"datum.p=='b' && isValid(datum.k4)"}],"mark":{"type":"line","color":"black","strokeWidth":1.8,"interpolate":"monotone"},"encoding":{"y":{"field":"k4","type":"quantitative","axis":null},"detail":{"field":"s","type":"nominal"}}},
{"data":{"name":"xps"},"transform":[{"filter":"datum.p=='b' && isValid(datum.k2)"}],"mark":{"type":"line","color":"black","strokeWidth":1.8,"interpolate":"monotone"},"encoding":{"y":{"field":"k2","type":"quantitative","axis":null},"detail":{"field":"s","type":"nominal"}}},
{"data":{"name":"xps"},"transform":[{"filter":"datum.p=='b'"}],"mark":{"type":"line","color":"black","strokeWidth":2.5,"interpolate":"monotone"},"encoding":{"y":{"field":"f","type":"quantitative","axis":null},"detail":{"field":"s","type":"nominal"}}},
{"data":{"name":"xps"},"transform":[{"filter":"datum.p=='b'"}],"mark":{"type":"line","color":"black","strokeWidth":4.5,"interpolate":"monotone"},"encoding":{"y":{"field":"bg","type":"quantitative","axis":null},"detail":{"field":"s","type":"nominal"}}},
{"data":{"name":"xl"},"transform":[{"filter":"datum.p=='b'"}],"mark":{"type":"rule","color":"black","strokeWidth":2},"encoding":{"y":{"field":"I","type":"quantitative","axis":null},"y2":{"datum":2}}},
{"data":{"name":"xl"},"transform":[{"filter":"datum.p=='b'"}],"mark":{"type":"point","shape":"M0,0L-0.55,-2L0.55,-2Z","filled":true,"color":"black","size":225,"opacity":1},"encoding":{"y":{"datum":2,"type":"quantitative","axis":null}}},
{"data":{"name":"xb"},"transform":[{"filter":"datum.p=='b' && datum.r=='sh'"}],"mark":{"type":"rect","color":"black"},"encoding":{"x2":{"field":"E2"},"y":{"field":"I","type":"quantitative","axis":null},"y2":{"field":"I2"}}},
{"data":{"name":"xb"},"transform":[{"filter":"datum.p=='b' && datum.r=='bx'"}],"mark":{"type":"rect","fill":"white","stroke":"#333333","strokeWidth":1},"encoding":{"x2":{"field":"E2"},"y":{"field":"I","type":"quantitative","axis":null},"y2":{"field":"I2"}}},
{"data":{"name":"xt"},"transform":[{"filter":"datum.p=='b' && datum.ty=='P'"}],"mark":{"type":"text","align":"center","baseline":"middle","fontSize":18,"fontWeight":"bold","color":"black"},"encoding":{"y":{"field":"I","type":"quantitative","axis":null},"text":{"field":"t"}}},
{"data":{"name":"xt"},"transform":[{"filter":"datum.p=='b' && datum.ty=='N'"}],"mark":{"type":"text","align":"center","baseline":"middle","fontSize":17,"fontWeight":"bold","color":"black"},"encoding":{"y":{"field":"I","type":"quantitative","axis":null},"text":{"field":"t"}}},
{"data":{"name":"xt"},"transform":[{"filter":"datum.p=='b' && datum.ty=='B'"}],"mark":{"type":"text","align":"center","baseline":"middle","fontSize":21,"fontWeight":"bold","color":"black"},"encoding":{"y":{"field":"I","type":"quantitative","axis":null},"text":{"field":"t"}}},
{"data":{"name":"xt"},"transform":[{"filter":"datum.p=='b' && datum.ty=='L'"}],"mark":{"type":"text","align":"right","baseline":"middle","fontSize":26,"color":"black"},"encoding":{"y":{"field":"I","type":"quantitative","axis":null},"text":{"field":"t"}}},
{"data":{"name":"xt"},"transform":[{"filter":"datum.p=='b' && datum.ty=='S'"}],"mark":{"type":"text","align":"left","baseline":"middle","fontSize":17.5},"encoding":{"y":{"field":"I","type":"quantitative","axis":null},"text":{"field":"t"},"color":{"field":"k","type":"nominal","scale":{"domain":["a","n","k"],"range":["#ff0000","#0000ff","#000000"]},"legend":null}}}
]
},
{
"width":278,"height":557,
"resolve":{"axis":{"x":"independent"}},
"encoding":{"x":{"field":"E","type":"quantitative","scale":{"domain":[65,84.05],"reverse":true,"nice":false,"zero":false},"axis":null}},
"layer":[
{"data":{"name":"xps"},"transform":[{"filter":"datum.p=='c'"}],"mark":{"type":"point","shape":"circle","filled":false,"size":64,"strokeWidth":1.8,"opacity":1},
"encoding":{"x":{"field":"E","type":"quantitative","scale":{"domain":[65,84.05],"reverse":true,"nice":false,"zero":false},"axis":{"orient":"bottom","values":[84,80,76,72,68],"format":"d","tickSize":10,"labelPadding":10,"domain":false,"title":"Энергия связи (эВ)","titleY":77,"titleBaseline":"alphabetic"}},
"y":{"field":"o","type":"quantitative","scale":{"domain":[0,557],"nice":false,"zero":false},"axis":null},
"color":{"field":"s","type":"nominal","scale":{"domain":["a","n","k"],"range":["#ff0000","#0000ff","#000000"]},"legend":null}}},
{"data":{"name":"xo"},"transform":[{"filter":"datum.p=='c'"}],"mark":{"type":"point","shape":"circle","filled":false,"size":64,"strokeWidth":1.8,"opacity":1},
"encoding":{"y":{"field":"o","type":"quantitative","axis":null},"color":{"field":"s","type":"nominal","scale":{"domain":["a","n","k"],"range":["#ff0000","#0000ff","#000000"]},"legend":null}}},
{"data":{"name":"xps"},"transform":[{"filter":"datum.p=='c' && isValid(datum.g)"}],"mark":{"type":"line","color":"#1f8a1f","strokeWidth":1.8,"interpolate":"monotone"},
"encoding":{"x":{"field":"E","type":"quantitative","scale":{"domain":[65,84.05],"reverse":true,"nice":false,"zero":false},"axis":{"orient":"bottom","values":[82,78,74,70,66],"tickSize":5,"labels":false,"domain":false,"title":null}},
"y":{"field":"g","type":"quantitative","axis":null},"detail":{"field":"s","type":"nominal"}}},
{"data":{"name":"xps"},"transform":[{"filter":"datum.p=='c' && isValid(datum.k4)"}],"mark":{"type":"line","color":"black","strokeWidth":1.8,"interpolate":"monotone"},"encoding":{"y":{"field":"k4","type":"quantitative","axis":null},"detail":{"field":"s","type":"nominal"}}},
{"data":{"name":"xps"},"transform":[{"filter":"datum.p=='c' && isValid(datum.k2)"}],"mark":{"type":"line","color":"black","strokeWidth":1.8,"interpolate":"monotone"},"encoding":{"y":{"field":"k2","type":"quantitative","axis":null},"detail":{"field":"s","type":"nominal"}}},
{"data":{"name":"xps"},"transform":[{"filter":"datum.p=='c'"}],"mark":{"type":"line","color":"black","strokeWidth":2.5,"interpolate":"monotone"},"encoding":{"y":{"field":"f","type":"quantitative","axis":null},"detail":{"field":"s","type":"nominal"}}},
{"data":{"name":"xps"},"transform":[{"filter":"datum.p=='c'"}],"mark":{"type":"line","color":"black","strokeWidth":4.5,"interpolate":"monotone"},"encoding":{"y":{"field":"bg","type":"quantitative","axis":null},"detail":{"field":"s","type":"nominal"}}},
{"data":{"name":"xl"},"transform":[{"filter":"datum.p=='c'"}],"mark":{"type":"rule","color":"black","strokeWidth":2},"encoding":{"y":{"field":"I","type":"quantitative","axis":null},"y2":{"datum":2}}},
{"data":{"name":"xl"},"transform":[{"filter":"datum.p=='c'"}],"mark":{"type":"point","shape":"M0,0L-0.55,-2L0.55,-2Z","filled":true,"color":"black","size":225,"opacity":1},"encoding":{"y":{"datum":2,"type":"quantitative","axis":null}}},
{"data":{"name":"xb"},"transform":[{"filter":"datum.p=='c' && datum.r=='sh'"}],"mark":{"type":"rect","color":"black"},"encoding":{"x2":{"field":"E2"},"y":{"field":"I","type":"quantitative","axis":null},"y2":{"field":"I2"}}},
{"data":{"name":"xb"},"transform":[{"filter":"datum.p=='c' && datum.r=='bx'"}],"mark":{"type":"rect","fill":"white","stroke":"#333333","strokeWidth":1},"encoding":{"x2":{"field":"E2"},"y":{"field":"I","type":"quantitative","axis":null},"y2":{"field":"I2"}}},
{"data":{"name":"xt"},"transform":[{"filter":"datum.p=='c' && datum.ty=='P'"}],"mark":{"type":"text","align":"center","baseline":"middle","fontSize":18,"fontWeight":"bold","color":"black"},"encoding":{"y":{"field":"I","type":"quantitative","axis":null},"text":{"field":"t"}}},
{"data":{"name":"xt"},"transform":[{"filter":"datum.p=='c' && datum.ty=='N'"}],"mark":{"type":"text","align":"center","baseline":"middle","fontSize":17,"fontWeight":"bold","color":"black"},"encoding":{"y":{"field":"I","type":"quantitative","axis":null},"text":{"field":"t"}}},
{"data":{"name":"xt"},"transform":[{"filter":"datum.p=='c' && datum.ty=='B'"}],"mark":{"type":"text","align":"center","baseline":"middle","fontSize":21,"fontWeight":"bold","color":"black"},"encoding":{"y":{"field":"I","type":"quantitative","axis":null},"text":{"field":"t"}}},
{"data":{"name":"xt"},"transform":[{"filter":"datum.p=='c' && datum.ty=='L'"}],"mark":{"type":"text","align":"right","baseline":"middle","fontSize":26,"color":"black"},"encoding":{"y":{"field":"I","type":"quantitative","axis":null},"text":{"field":"t"}}},
{"data":{"name":"xt"},"transform":[{"filter":"datum.p=='c' && datum.ty=='S'"}],"mark":{"type":"text","align":"left","baseline":"middle","fontSize":17.5},"encoding":{"y":{"field":"I","type":"quantitative","axis":null},"text":{"field":"t"},"color":{"field":"k","type":"nominal","scale":{"domain":["a","n","k"],"range":["#ff0000","#0000ff","#000000"]},"legend":null}}}
]
}
]
}
]
}
